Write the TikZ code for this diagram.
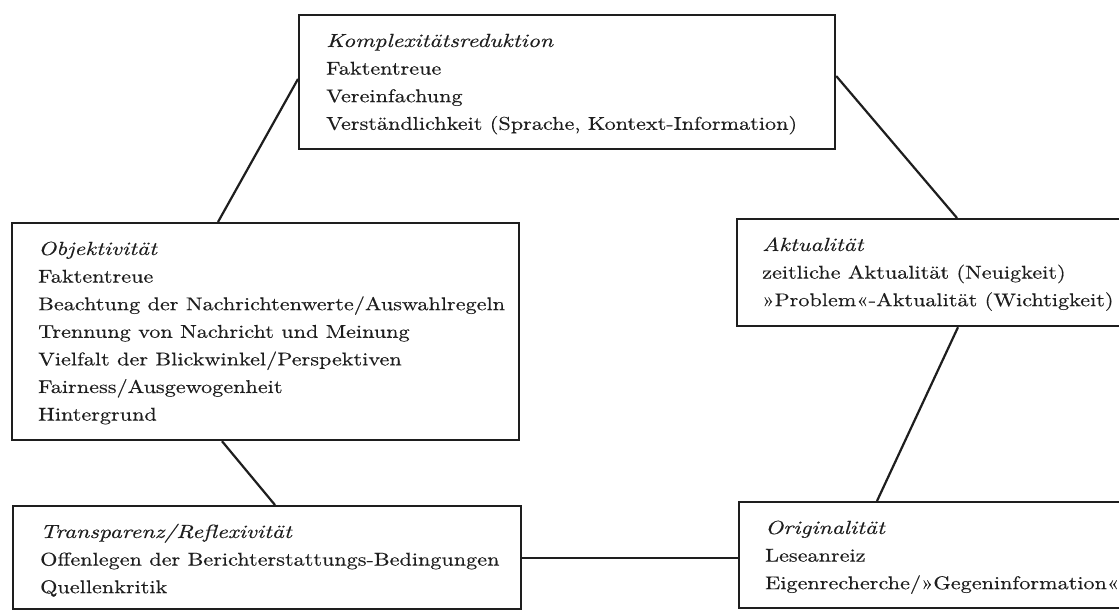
\documentclass[tikz,border=0pt]{standalone}
\usepackage{fontspec}
\setmainfont{lmroman10-regular.otf}[FakeStretch=1.2, FakeBold=0.3]
\newfontfamily\headfont{lmroman10-italic.otf}[FakeStretch=1.24, FakeBold=0.3]
\definecolor{ink}{HTML}{1E1E1E}
\tikzset{
  box/.style={draw=ink, line width=2.2pt, anchor=north west, inner sep=0pt},
  txt/.style={anchor=base west, inner sep=0pt, text=ink, font=\fontsize{18.5}{27.6}\selectfont},
  link/.style={draw=ink, line width=2.2pt},
}
\newcommand{\boxtext}[2]{\parbox[t]{560pt}{\raggedright{\headfont\fontsize{19}{27.6}\selectfont #1}\\#2}}
\begin{document}
\begin{tikzpicture}[x=1pt,y=-1pt]
\useasboundingbox (0,0) rectangle (1119,612);
\fill[white] (0,0) rectangle (1119,612);
\clip (0,0) rectangle (1119,612);
% boxes
\node[box, minimum width=536pt, minimum height=134pt] (komp) at (298,14) {};
\node[box, minimum width=507pt, minimum height=217pt] (obj) at (11,222) {};
\node[box, minimum width=400pt, minimum height=107pt] (akt) at (736,218) {};
\node[box, minimum width=508pt, minimum height=103pt] (trans) at (12,505) {};
\node[box, minimum width=400pt, minimum height=106pt] (orig) at (738,501) {};
% texts
\node[txt] (kompt) at (326,47) {\boxtext{Komplexitätsreduktion}{Faktentreue\\Vereinfachung\\Verständlichkeit (Sprache, Kontext-Information)}};
\node[txt] (objt) at (38,255) {\boxtext{Objektivität}{Faktentreue\\Beachtung der Nachrichtenwerte/Auswahlregeln\\Trennung von Nachricht und Meinung\\Vielfalt der Blickwinkel/Perspektiven\\Fairness/Ausgewogenheit\\Hintergrund}};
\node[txt] (aktt) at (762,251) {\boxtext{Aktualität}{zeitliche Aktualität (Neuigkeit)\\»Problem«-Aktualität (Wichtigkeit)}};
\node[txt] (transt) at (40,538) {\boxtext{Transparenz/Reflexivität}{Offenlegen der Berichterstattungs-Bedingungen\\Quellenkritik}};
\node[txt] (origt) at (765,534) {\boxtext{Originalität}{Leseanreiz\\Eigenrecherche/»Gegeninformation«}};
% connectors
\draw[link] ([yshift=-65pt]komp.north west) -- ([xshift=207pt]obj.north west);
\draw[link] ([yshift=-62pt]komp.north east) -- ([xshift=221pt]akt.north west);
\draw[link] ([xshift=211pt]obj.south west) -- ([xshift=263pt]trans.north west);
\draw[link] ([xshift=222pt]akt.south west) -- ([xshift=139pt]orig.north west);
\draw[link] (trans.east) -- (trans.east -| orig.west);
\end{tikzpicture}
\end{document}
